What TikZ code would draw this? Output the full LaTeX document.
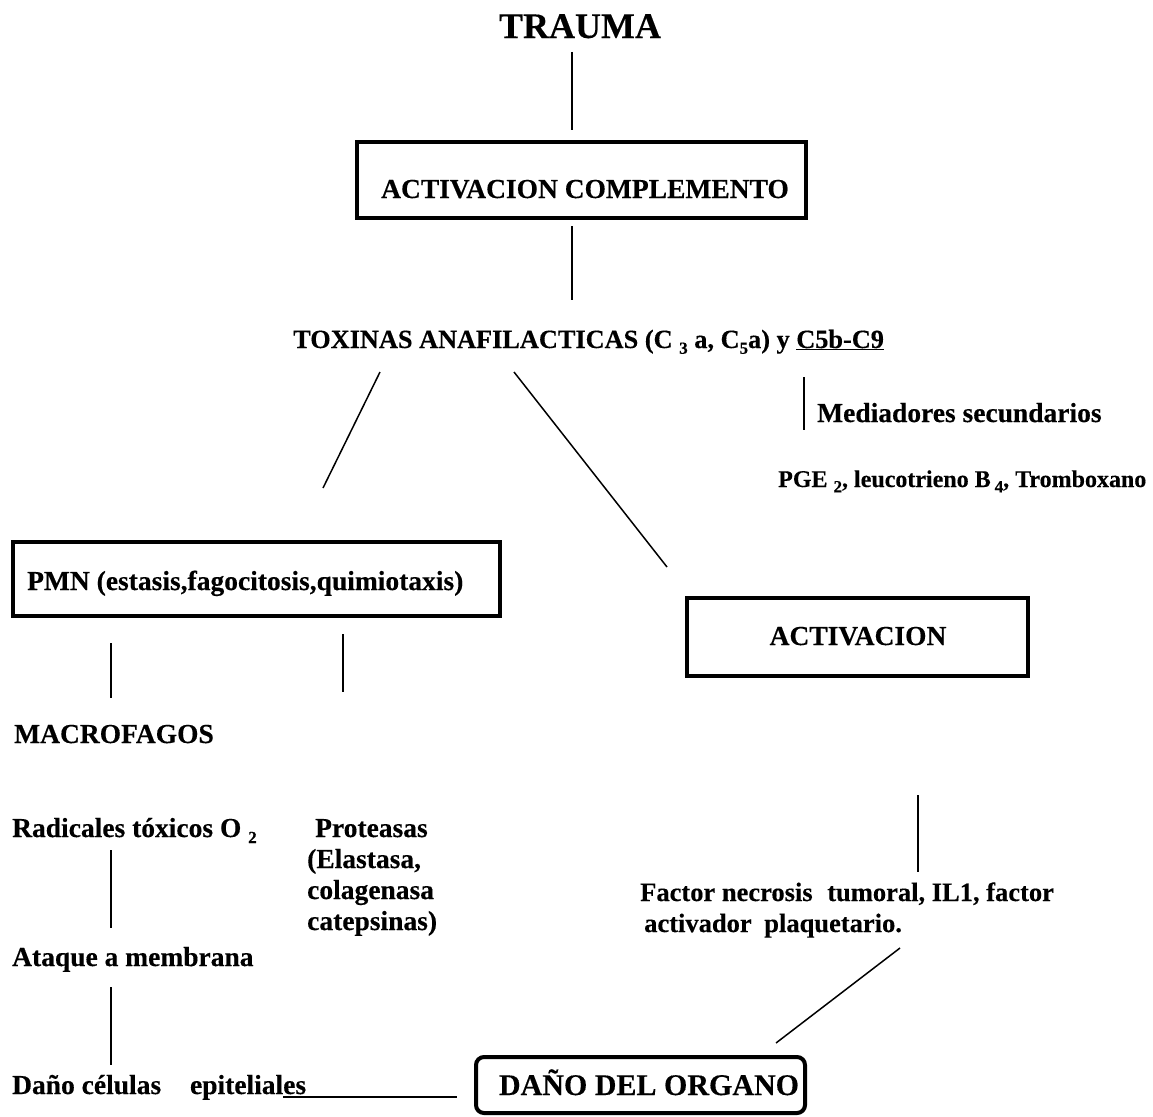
\documentclass[tikz,border=0pt]{standalone}
\usepackage{fontspec}
\setmainfont{Liberation Serif}[BoldFeatures={FakeBold=0.3}]
\newcommand\sbx[1]{\raisebox{-0.22em}{\fontsize{17}{17}\selectfont #1}}
\begin{document}
\begin{tikzpicture}[x=1pt,y=-1pt,
  txt/.style={inner sep=0pt, font=\fontsize{27.5}{31}\selectfont\bfseries},
  box/.style={draw, line width=4pt, inner sep=0pt},
  conn/.style={line width=1.5pt}]
\useasboundingbox[fill=white] (0,0) rectangle (1153,1116);

% top
\node[txt, anchor=base] (trauma) at (580,38) {\fontsize{36}{40}\selectfont TRAUMA};
\coordinate (c1a) at (572,52); \coordinate (c1b) at (572,130);
\draw[conn] (c1a) -- (c1b);

\node[box, minimum width=449pt, minimum height=76pt] (acbox) at (581.5,180) {};
\node[txt, anchor=base] (aclbl) at (585,198) {ACTIVACION COMPLEMENTO};
\coordinate (c2a) at (572,226); \coordinate (c2b) at (572,300);
\draw[conn] (c2a) -- (c2b);

\node[txt, anchor=base west] (tox) at (293,348) {\fontsize{26.3}{30}\selectfont TOXINAS ANAFILACTICAS (C \sbx{3} a, C\sbx{5}a) y \underline{C5b-C9}};

\coordinate (c3a) at (804,377); \coordinate (c3b) at (804,430);
\draw[conn] (c3a) -- (c3b);
\node[txt, anchor=base west] (med) at (817,422) {Mediadores secundarios};
\node[txt, anchor=base west] (pge) at (778,487) {\fontsize{24}{28}\selectfont PGE \sbx{2}, leucotrieno B\,\sbx{4}, Tromboxano};

\coordinate (c4a) at (380,372); \coordinate (c4b) at (323,488);
\draw[conn] (c4a) -- (c4b);
\coordinate (c5a) at (514,372); \coordinate (c5b) at (667,567);
\draw[conn] (c5a) -- (c5b);

% left branch
\node[box, minimum width=487pt, minimum height=74pt] (pmnbox) at (256.5,579) {};
\node[txt, anchor=base west] (pmn) at (27,590) {PMN (estasis,fagocitosis,quimiotaxis)};

\coordinate (c6a) at (111,643); \coordinate (c6b) at (111,698);
\draw[conn] (c6a) -- (c6b);
\coordinate (c7a) at (343,634); \coordinate (c7b) at (343,692);
\draw[conn] (c7a) -- (c7b);

\node[txt, anchor=base west] (macro) at (14,743) {MACROFAGOS};
\node[txt, anchor=base west] (rad) at (12,837) {Radicales tóxicos O \sbx{2}};
\node[txt, anchor=base west] (prot1) at (315,837) {Proteasas};
\node[txt, anchor=base west] (prot2) at (307,868) {(Elastasa,};
\node[txt, anchor=base west] (prot3) at (307,899) {colagenasa};
\node[txt, anchor=base west] (prot4) at (307,930) {catepsinas)};

\coordinate (c8a) at (111,850); \coordinate (c8b) at (111,928);
\draw[conn] (c8a) -- (c8b);
\node[txt, anchor=base west] (ataque) at (12,966) {Ataque a membrana};
\coordinate (c9a) at (111,987); \coordinate (c9b) at (111,1065);
\draw[conn] (c9a) -- (c9b);
\node[txt, anchor=base west] (danoc) at (12,1094) {Daño células\hspace{22pt} epiteliales};
\coordinate (c10a) at (283,1097); \coordinate (c10b) at (457,1097);
\draw[conn] (c10a) -- (c10b);

% bottom box
\node[box, rounded corners=8pt, minimum width=329pt, minimum height=56pt] (organbox) at (640.5,1085) {};
\node[txt, anchor=base] (organ) at (649,1095) {\fontsize{30}{34}\selectfont DAÑO DEL ORGANO};

% right branch
\node[box, minimum width=341pt, minimum height=78pt] (actbox) at (857.5,637) {};
\node[txt, anchor=base] (act) at (858,645) {ACTIVACION};

\coordinate (c11a) at (918,795); \coordinate (c11b) at (918,872);
\draw[conn] (c11a) -- (c11b);
\node[txt, anchor=base west] (fac1) at (640,901) {\fontsize{26.5}{30}\selectfont Factor necrosis\hspace{8pt} tumoral, IL1, factor};
\node[txt, anchor=base west] (fac2) at (644,932) {\fontsize{26.5}{30}\selectfont activador\hspace{6pt} plaquetario.};
\coordinate (c12a) at (900,948); \coordinate (c12b) at (776,1043);
\draw[conn] (c12a) -- (c12b);
\end{tikzpicture}
\end{document}
